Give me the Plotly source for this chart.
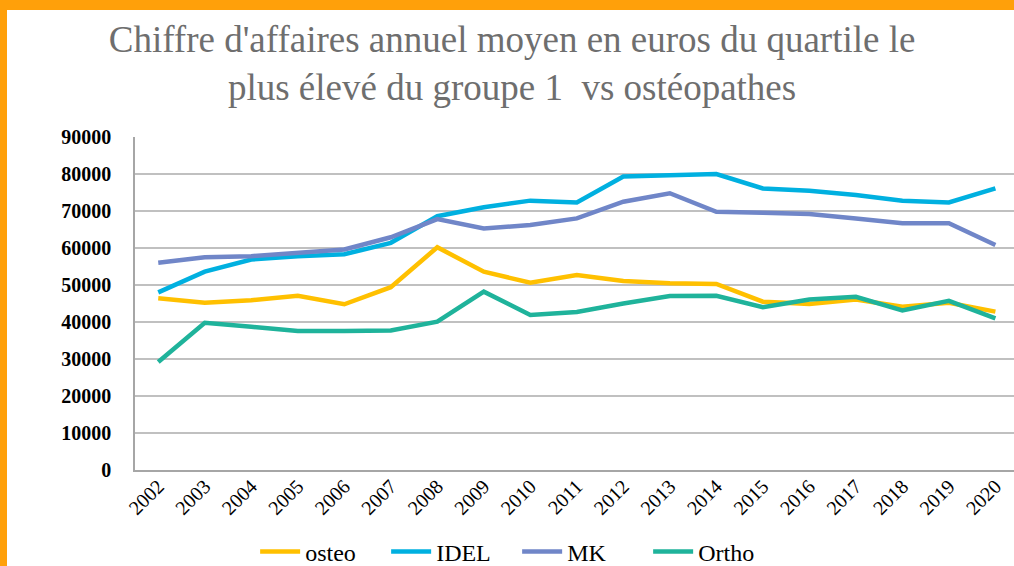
import plotly.graph_objects as go

years = [str(y) for y in range(2002, 2021)]
osteo = [46400, 45200, 45900, 47100, 44800, 49400, 60200, 53600, 50600, 52700,
         51100, 50500, 50300, 45500, 44900, 46100, 44100, 45200, 42800]
idel = [48000, 53600, 56900, 57800, 58300, 61400, 68600, 71000, 72800, 72300,
        79300, 79500, 80000, 76100, 75500, 74300, 72800, 72300, 76100]
mk = [56000, 57500, 57800, 58700, 59600, 62900, 67800, 65300, 66200, 68000,
      72500, 74800, 69800, 69500, 69200, 68000, 66700, 66700, 60800]
ortho = [29200, 39800, 38700, 37600, 37600, 37700, 40100, 48200, 41900, 42700,
         45000, 47000, 47100, 44000, 46100, 46800, 43100, 45700, 41000]

series = [("osteo", osteo, "#FFC000"), ("IDEL", idel, "#00B0E0"),
          ("MK", mk, "#7086C8"), ("Ortho", ortho, "#1FB39B")]

W, H = 1014, 566
L, R, T, B = 135, 0, 137, 96
PW, PH = W - L - R, H - T - B

fig = go.Figure()
for name, vals, col in series:
    fig.add_trace(go.Scatter(x=years, y=vals, name=name, mode="lines",
                             line=dict(color=col, width=4.5)))

serif = "Liberation Serif"
fig.update_layout(
    width=W, height=H, autosize=False,
    margin=dict(l=L, r=R, t=T, b=B),
    paper_bgcolor="white", plot_bgcolor="white",
    title=dict(text="Chiffre d'affaires annuel moyen en euros du quartile le<br>plus élevé du groupe 1  vs ostéopathes",
               x=0.505, xref="container", xanchor="center",
               y=1 - 52 / H, yref="container", yanchor="middle",
               font=dict(family=serif, size=37, color="#6E6E6E")),
    xaxis=dict(type="category", range=[-0.5, 18.4], showgrid=False,
               showline=True, linecolor="#A6A6A6", linewidth=1.5,
               tickangle=-45, ticks="", ticklabelstandoff=-5,
               tickfont=dict(family=serif, size=20, color="black")),
    yaxis=dict(range=[0, 90000], dtick=10000, showgrid=True,
               gridcolor="#C0C0C0", gridwidth=1.5, zeroline=False,
               showline=True, linecolor="#A6A6A6", linewidth=1.5,
               ticks="", ticklabelstandoff=18, tickformat="d",
               tickfont=dict(family=serif, size=20, color="black",
                             weight="bold")),
    legend=dict(orientation="h", xref="container", yref="container",
                x=0.51, y=1 - 552 / H, xanchor="center", yanchor="middle",
                font=dict(family=serif, size=24, color="black"),
                bgcolor="rgba(0,0,0,0)", itemwidth=40,
                entrywidth=76, entrywidthmode="pixels",
                tracegroupgap=0),
    showlegend=True,
)

# orange frame (left and top strips)
fx = lambda px: (px - L) / PW
fy = lambda py: (H - B - py) / PH
orange = "#FFA00A"
fig.add_shape(type="rect", xref="paper", yref="paper",
              x0=fx(0), x1=fx(7), y0=fy(H), y1=fy(0),
              fillcolor=orange, line_width=0, layer="above")
fig.add_shape(type="rect", xref="paper", yref="paper",
              x0=fx(0), x1=fx(W), y0=fy(10), y1=fy(0),
              fillcolor=orange, line_width=0, layer="above")

fig.write_html("out.html", config={"displayModeBar": False},
               post_script="document.body.style.margin='0';document.body.style.overflow='hidden';")
